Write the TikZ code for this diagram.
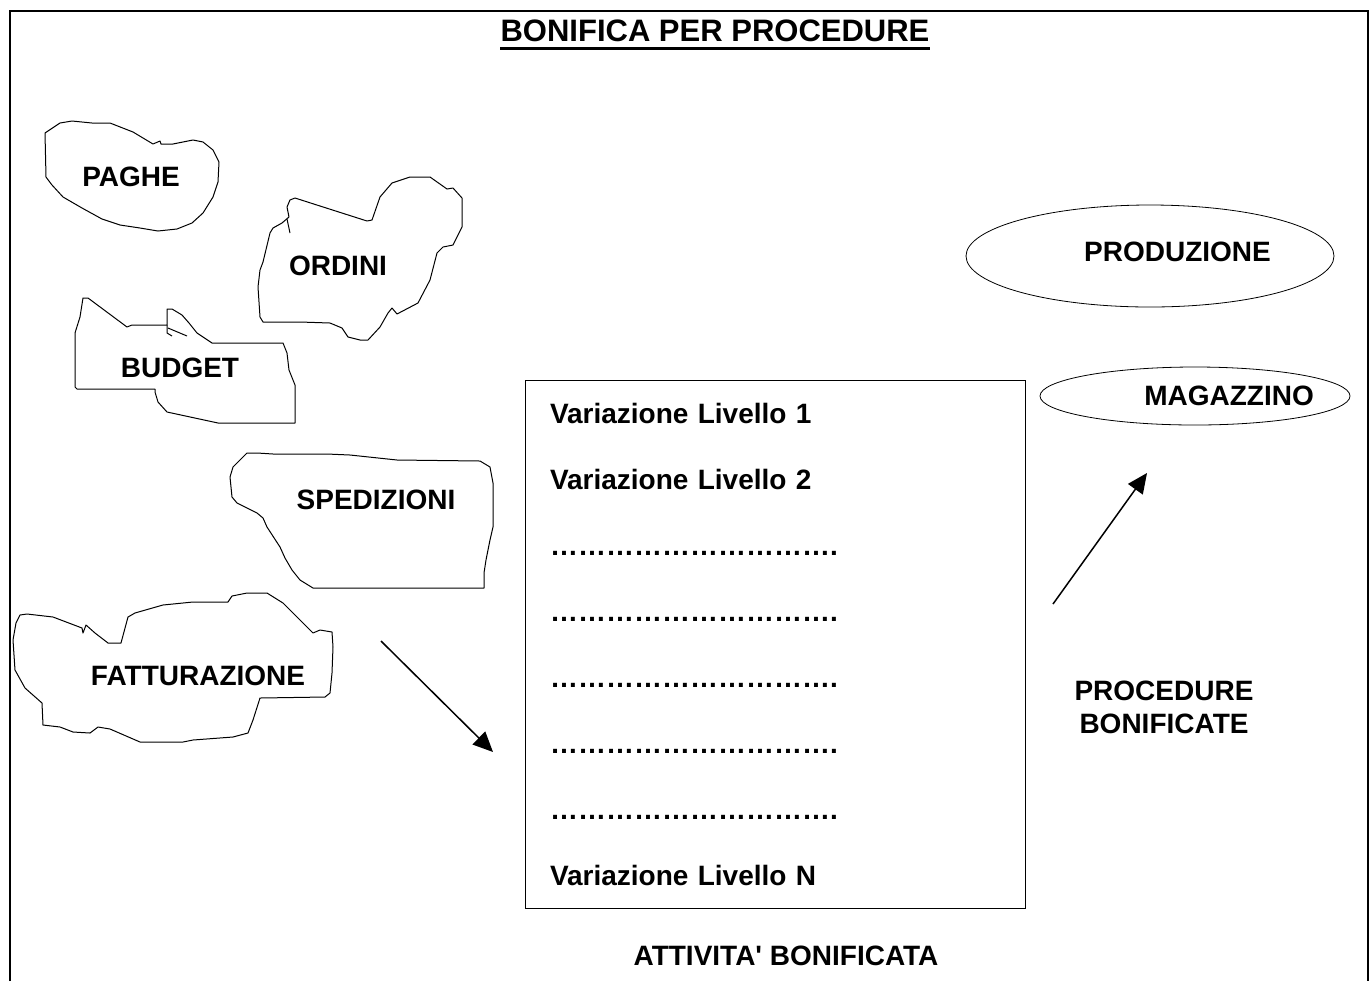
\documentclass[tikz,border=0pt]{standalone}
\usepackage{fontspec}
\setmainfont{Liberation Sans}
\usetikzlibrary{shapes.geometric,arrows.meta,positioning}
\tikzstyle{lbl} = [font=\bfseries\fontsize{14}{16.5}\selectfont, inner sep=0pt]
\tikzstyle{row} = [lbl, text width=150pt, align=left, text height=10pt, text depth=3pt]
\tikzstyle{oval} = [draw, ellipse, inner sep=0pt]
\tikzstyle{blob} = [line width=0.5pt, line join=round]
\newcommand{\puntini}{\textellipsis\textellipsis\textellipsis\textellipsis\textellipsis
  \textellipsis\textellipsis\textellipsis\textellipsis\textellipsis.}

\begin{document}
\begin{tikzpicture}[x=0.5pt,y=-0.5pt,>={Triangle[length=10pt,width=9pt]},node distance=33pt]

\useasboundingbox (0,0) rectangle (1370,981);

% frame
\draw[line width=1pt] (10,981) -- (10,11) -- (1368,11) -- (1368,981);

\node[lbl, font=\bfseries\fontsize{15.5}{18}\selectfont] (title) at (715,31) {BONIFICA PER PROCEDURE};
\draw[line width=1.6pt] ([yshift=-3.5pt]title.base west) -- ([yshift=-3.5pt]title.base east);

% procedure da bonificare
\draw[blob] (45,133) -- (60,123) -- (72,121) -- (92,123) -- (110,123) -- (133,132) -- (153,144)
  -- (160,141) -- (161,144) -- (173,144) -- (193,140) -- (203,142) -- (213,150) -- (219,162)
  -- (218,182) -- (213,197) -- (203,213) -- (192,223) -- (177,229) -- (158,231) -- (140,228)
  -- (120,225) -- (102,219) -- (82,208) -- (63,197) -- (52,185) -- (46,177) -- cycle;
\node[lbl] (paghe) at (131,177) {PAGHE};

\draw[blob] (290,200) -- (295,198) -- (320,206) -- (367,221) -- (372,220) -- (380,197) -- (392,183)
  -- (410,177) -- (430,177) -- (447,189) -- (453,188) -- (462,198) -- (462,227) -- (453,245)
  -- (443,247) -- (437,253) -- (430,280) -- (418,303) -- (397,314) -- (392,308) -- (388,313)
  -- (380,327) -- (368,340) -- (360,340) -- (348,337) -- (342,328) -- (330,323) -- (300,322)
  -- (263,322) -- (260,317) -- (258,287) -- (260,270) -- (263,262) -- (270,233) -- (273,228)
  -- (282,223) -- (289,217) -- (287,207) -- cycle;
\draw[blob] (287,219) -- (290,233);
\node[lbl] (ordini) at (338,266) {ORDINI};

\draw[blob] (83,298) -- (88,298) -- (127,327) -- (132,325) -- (167,325) -- (167,309) -- (172,309)
  -- (182,315) -- (189,323) -- (197,333) -- (212,343) -- (283,343) -- (287,353) -- (289,370)
  -- (295,385) -- (295,423) -- (218,423) -- (167,412) -- (158,402) -- (155,392) -- (155,389)
  -- (77,389) -- (75,387) -- (75,333) -- (80,317) -- cycle;
\draw[blob] (167,325) -- (167,333) -- (172,336);
\draw[blob] (168,328) -- (187,336);
\node[lbl] (budget) at (180,368) {BUDGET};

\draw[blob] (247,453) -- (257,453) -- (273,454) -- (327,454) -- (350,455) -- (397,460) -- (480,461)
  -- (490,467) -- (493,483) -- (493,527) -- (490,540) -- (486,560) -- (484,573) -- (484,588)
  -- (313,588) -- (300,580) -- (292,570) -- (285,558) -- (280,547) -- (267,527) -- (263,518)
  -- (257,513) -- (237,503) -- (232,497) -- (230,477) -- (233,467) -- (240,460) -- cycle;
\node[lbl] (spedizioni) at (376,500) {SPEDIZIONI};

\draw[blob] (20,615) -- (27,614) -- (53,617) -- (82,628) -- (83,633) -- (86,625) -- (95,633)
  -- (108,643) -- (121,643) -- (128,617) -- (135,613) -- (163,605) -- (193,602) -- (228,602)
  -- (232,596) -- (247,593) -- (267,593) -- (283,603) -- (297,617) -- (313,633) -- (320,630)
  -- (332,632) -- (333,647) -- (332,673) -- (330,693) -- (325,697) -- (260,698) -- (253,720)
  -- (248,733) -- (233,737) -- (193,740) -- (183,742) -- (140,742) -- (110,729) -- (98,727)
  -- (90,733) -- (73,732) -- (60,727) -- (43,725) -- (42,703) -- (25,688) -- (15,670)
  -- (13,640) -- (16,623) -- cycle;
\node[lbl] (fatturazione) at (198,676) {FATTURAZIONE};

% attivita'
\node[draw, line width=0.5pt, minimum width=250pt, minimum height=264pt] (box) at (775,644) {};
\node[row] (v1) at (700,416) {Variazione Livello 1};
\node[row] (v2) [below of = v1] {Variazione Livello 2};
\node[row] (d1) [below of = v2] {\puntini};
\node[row] (d2) [below of = d1] {\puntini};
\node[row] (d3) [below of = d2] {\puntini};
\node[row] (d4) [below of = d3] {\puntini};
\node[row] (d5) [below of = d4] {\puntini};
\node[row] (vn) [below of = d5] {Variazione Livello N};
\node[lbl] (attivita) at (786,956) {ATTIVITA\textquotesingle{} BONIFICATA};

% procedure bonificate
\node[oval, minimum width=184pt, minimum height=51pt] (produzione) at (1150,256) {};
\node[lbl] (prodlbl) at ([xshift=13.75pt,yshift=2pt]produzione.center) {PRODUZIONE};
\node[oval, minimum width=155pt, minimum height=29pt] (magazzino) at (1195,396) {};
\node[lbl] (maglbl) at ([xshift=17pt]magazzino.center) {MAGAZZINO};
\node[lbl, align=center] (bonificate) at (1164,707) {PROCEDURE\\BONIFICATE};

\coordinate (in1) at (381,641);
\coordinate (in2) at (493,752);
\coordinate (out1) at (1053,604);
\coordinate (out2) at (1147,473);
\draw[->, line width=0.75pt] (in1) -- (in2);
\draw[->, line width=0.75pt] (out1) -- (out2);

\end{tikzpicture}
\end{document}
